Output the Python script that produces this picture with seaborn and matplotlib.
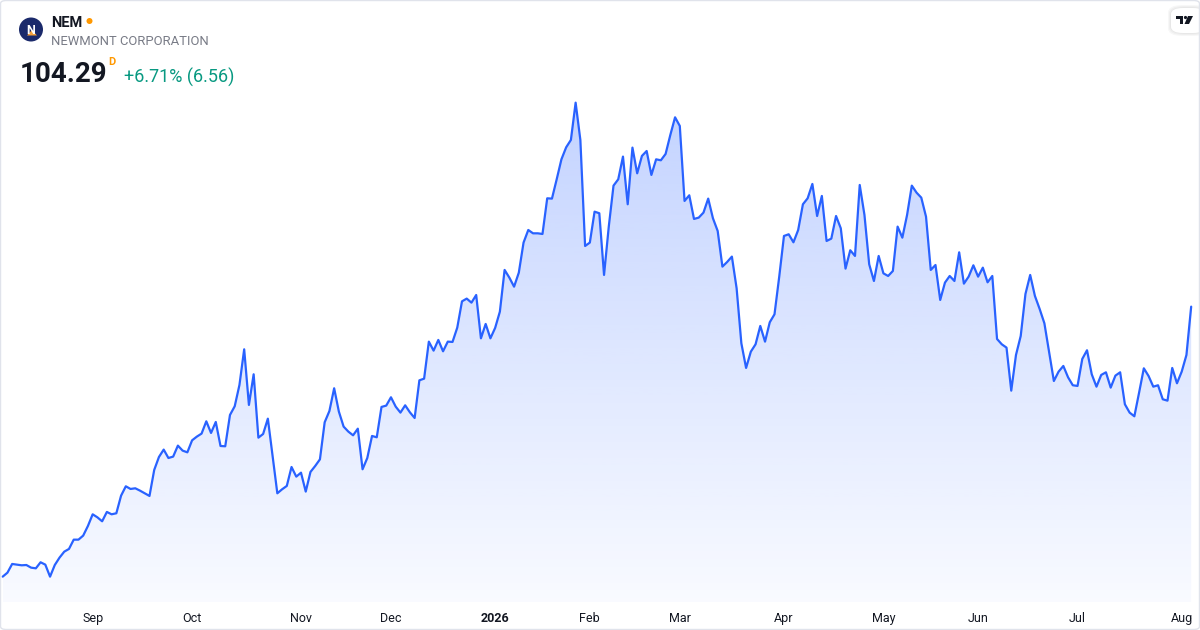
import numpy as np
import pandas as pd
import matplotlib
matplotlib.use('Agg')
import matplotlib.pyplot as plt
from matplotlib.patches import Ellipse, FancyBboxPatch, Polygon
import seaborn as sns

# NEM daily closes, 5 Aug 2025 .. 5 Aug 2026
start_date = '2025-08-05'
end_date = '2026-08-05'
holidays = ['2025-09-01', '2025-11-27', '2025-12-25', '2026-01-01', '2026-01-19',
            '2026-02-16', '2026-04-03', '2026-05-25', '2026-06-19', '2026-07-03']
close = [
    67.65, 68.19, 69.37, 69.28, 69.19, 69.23, 68.87, 68.78, 69.60, 69.28,
    67.65, 69.23, 70.23, 71.04, 71.41, 72.67, 72.67, 73.22, 74.53, 76.11,
    75.70, 75.16, 76.43, 76.11, 76.25, 78.64, 79.91, 79.55, 79.64, 79.32,
    78.96, 78.60, 82.13, 83.89, 84.89, 83.75, 83.94, 85.43, 84.75, 84.52,
    86.15, 86.65, 87.06, 88.73, 87.15, 88.64, 85.38, 85.34, 89.59, 90.77,
    93.66, 98.50, 90.95, 95.11, 86.51, 87.01, 89.09, 84.03, 78.96, 79.50,
    79.96, 82.53, 81.22, 81.76, 79.19, 81.86, 82.67, 83.57, 88.60, 90.13,
    93.21, 90.04, 88.01, 87.33, 86.83, 87.73, 82.22, 83.75, 86.74, 86.56,
    90.68, 90.86, 91.99, 90.72, 89.91, 90.90, 89.95, 89.18, 94.29, 94.52,
    99.54, 98.32, 99.77, 98.23, 99.54, 99.50, 101.44, 105.01, 105.38, 104.83,
    105.87, 99.99, 101.94, 99.99, 101.40, 103.61, 109.27, 108.23, 107.00, 108.90,
    112.98, 114.69, 114.24, 114.24, 114.15, 118.99, 118.95, 121.57, 124.28, 125.91,
    126.91, 131.97, 126.91, 112.52, 112.98, 117.18, 116.96, 108.59, 115.15, 120.71,
    121.57, 124.65, 118.18, 125.87, 122.38, 124.74, 125.41, 122.16, 124.28, 124.15,
    125.01, 127.59, 129.98, 128.81, 118.63, 119.40, 116.19, 116.37, 117.05, 118.95,
    116.28, 114.56, 109.72, 110.35, 111.08, 106.78, 99.32, 95.97, 98.18, 99.18,
    101.67, 99.54, 102.17, 103.25, 108.36, 113.88, 114.11, 113.02, 114.69, 118.18,
    118.99, 120.94, 116.59, 119.31, 113.20, 113.52, 116.59, 114.92, 109.45, 111.94,
    111.17, 120.80, 116.73, 110.04, 107.77, 111.17, 108.81, 108.45, 109.13, 115.15,
    113.65, 116.73, 120.71, 119.76, 119.08, 116.50, 109.27, 109.94, 105.20, 107.55,
    108.45, 107.77, 111.66, 107.41, 108.36, 109.90, 108.36, 109.58, 107.59, 108.45,
    99.90, 99.18, 98.73, 92.89, 97.73, 100.31, 106.01, 108.59, 105.74, 103.97,
    102.03, 98.09, 94.20, 95.47, 96.24, 94.70, 93.62, 93.53, 97.19, 98.37,
    95.11, 93.43, 95.02, 95.38, 93.30, 94.93, 95.38, 91.04, 89.91, 89.41,
    92.62, 95.92, 94.88, 93.43, 93.62, 91.72, 91.53, 95.97, 93.89, 95.47,
    97.73, 104.29,
]
ticker = 'NEM'
company = 'NEWMONT CORPORATION'
last_price = '104.29'
change_text = '+6.71% (6.56)'

LINE = '#2962ff'
TEXT = '#131722'
GREY = '#787b86'
GREEN = '#089981'
ORANGE = '#ff9800'
W, H = 1200, 630

dates = pd.bdate_range(start_date, end_date, freq='C', holidays=holidays)
df = pd.DataFrame({'date': dates, 'close': close})
df['i'] = np.arange(len(df))

sns.set_style('white')
plt.rcParams['font.family'] = ['Roboto', 'DejaVu Sans']

fig = plt.figure(figsize=(W / 100, H / 100), dpi=100)
fig.patch.set_facecolor('white')


def fx(x, y):
    return (x / W, 1 - y / H)


def dot(x, y, r, color):
    fig.patches.append(Ellipse(fx(x, y), 2 * r / W, 2 * r / H, transform=fig.transFigure,
                               facecolor=color, edgecolor='none'))


ax = fig.add_axes([0, 28 / H, 1197 / W, 602 / H])
ax.set_facecolor('none')

ylo, yhi = 64.21, 145.9
xlo, xhi = -0.57, 252.23

# gradient area under the line
top = df.close.max()
grad = np.zeros((256, 1, 4))
grad[:, 0, 0] = 41 / 255
grad[:, 0, 1] = 98 / 255
grad[:, 0, 2] = 1.0
grad[:, 0, 3] = np.linspace(0.03, 0.28, 256)
img = ax.imshow(grad, extent=[df.i.iloc[0], df.i.iloc[-1], ylo, top],
                origin='lower', aspect='auto', interpolation='bilinear', zorder=1)
verts = [(df.i.iloc[0], ylo)] + list(zip(df.i, df.close)) + [(df.i.iloc[-1], ylo)]
clip = Polygon(verts, closed=True, facecolor='none', edgecolor='none')
ax.add_patch(clip)
img.set_clip_path(clip)

sns.lineplot(data=df, x='i', y='close', ax=ax, color=LINE, linewidth=1.6, zorder=3)

ax.set_xlim(xlo, xhi)
ax.set_ylim(ylo, yhi)
ax.set_xlabel('')
ax.set_ylabel('')
ax.set_yticks([])
sns.despine(ax=ax, left=True, bottom=True)

# month ticks on the first trading day of each month
firsts = df.groupby(df.date.dt.to_period('M'))['i'].min().iloc[1:]
labels = []
for per in firsts.index:
    labels.append(str(per.year) if per.month == 1 else per.strftime('%b'))
ax.set_xticks(firsts.values)
ax.set_xticklabels(labels, fontsize=9, color=TEXT)
ax.tick_params(axis='x', length=0, pad=7.5)
for t in ax.get_xticklabels():
    if t.get_text().isdigit():
        t.set_fontweight('bold')

# header
dot(31, 29.5, 12, '#1b2a6b')
fig.text(*fx(30.5, 33.5), 'N', color='white', fontsize=9, fontweight='bold',
         ha='center', va='baseline')
fig.patches.append(Polygon([fx(27, 35.5), fx(32, 30), fx(37, 35.5)], closed=True,
                           transform=fig.transFigure, facecolor='#f7a23b', edgecolor='none'))
fig.text(*fx(51.5, 26.7), ticker, color=TEXT, fontsize=10.5, fontweight='bold', va='baseline')
dot(89.5, 21, 3, ORANGE)
fig.text(*fx(51, 45), company, color=GREY, fontsize=9.4, va='baseline')
fig.text(*fx(19.5, 81.7), last_price, color=TEXT, fontsize=20, fontweight='bold', va='baseline')
fig.text(*fx(108.5, 65), 'D', color=ORANGE, fontsize=8, fontweight='bold', va='baseline')
fig.text(*fx(124, 82.3), change_text, color=GREEN, fontsize=13, va='baseline')

# TradingView badge
for g in (3, 2, 1):
    fig.patches.append(FancyBboxPatch(fx(1171 - g, 33 + g), (34 + 2 * g) / W, (25 + 2 * g) / H,
                                      boxstyle='round,pad=0,rounding_size=0.012',
                                      transform=fig.transFigure, facecolor='black',
                                      edgecolor='none', alpha=0.03))
fig.patches.append(FancyBboxPatch(fx(1171, 33), 34 / W, 25 / H,
                                  boxstyle='round,pad=0,rounding_size=0.01',
                                  transform=fig.transFigure, facecolor='white', edgecolor='none'))
logo = [
    [(1176, 16), (1183, 16), (1183, 24), (1180, 24), (1180, 19), (1176, 19)],
    [(1188, 16), (1193, 16), (1189, 24), (1184.5, 24)],
]
for pts in logo:
    fig.patches.append(Polygon([fx(*p) for p in pts], closed=True,
                               transform=fig.transFigure, facecolor=TEXT, edgecolor='none'))
dot(1185.5, 17.5, 1.6, TEXT)

# card border
fig.patches.append(FancyBboxPatch((0.5 / W, 0.5 / H), 1 - 1 / W, 1 - 1 / H,
                                  boxstyle='round,pad=0,rounding_size=0.005',
                                  transform=fig.transFigure, facecolor='none',
                                  edgecolor='#e0e3eb', linewidth=1))

fig.savefig('out.png', dpi=100)
